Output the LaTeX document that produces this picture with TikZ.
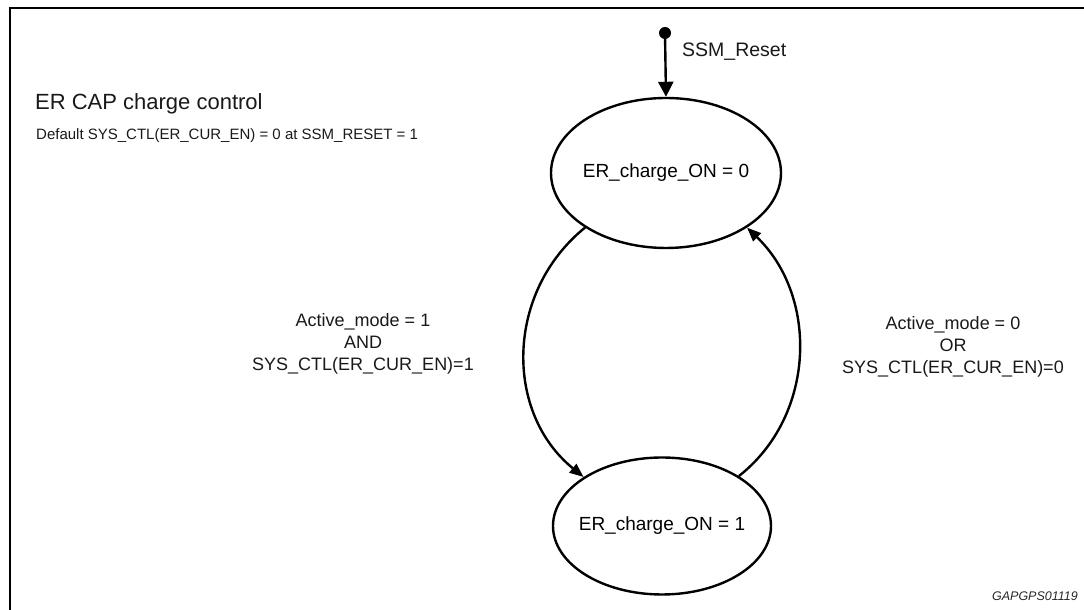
\documentclass[tikz,border=0pt]{standalone}
\usepackage{fontspec}
\setmainfont{Liberation Sans}
\usetikzlibrary{arrows.meta,shapes.geometric}
\tikzset{
  state/.style={ellipse,draw,line width=2.4bp,inner xsep=-40bp,inner ysep=0pt,font=\fontsize{19bp}{22bp}\selectfont},
  trans/.style={line width=2.4bp,-{Triangle[length=14bp,width=11bp]}},
  lbl/.style={align=center,inner sep=0pt,font=\fontsize{18bp}{22bp}\selectfont,text=black!90},
}
\begin{document}
\begin{tikzpicture}[x=1bp,y=1bp]
\useasboundingbox (0,0) rectangle (1084,610);
\begin{scope}
\clip (0,0) rectangle (1084,610);
\draw[line width=2.4bp] (10,-10) -- (10,602) -- (1100,602);
\end{scope}
% states
\node[state,minimum width=230bp,minimum height=150bp] (s1) at (666,437) {ER\_charge\_ON = 0};
\node[state,minimum width=218bp,minimum height=137bp] (s2) at (662,84) {ER\_charge\_ON = 1};
% initial
\coordinate (dot) at (665,577);
\fill (dot) circle (6bp);
\draw[trans,-{Triangle[length=15bp,width=15bp]}] (dot) -- (s1.north);
\node[lbl,anchor=west,font=\fontsize{19.5bp}{22bp}\selectfont] (reset) at (682,558) {SSM\_Reset};
% transitions
\draw[trans] (s1.214) .. controls +(-79.5,-64.4) and +(-79.5,64.4) .. (s2.148);
\draw[trans] (s2.33) .. controls +(77.5,61) and +(71.2,-68.2) .. (s1.326);
% labels
\node[lbl] (l1) at (363,266) {Active\_mode = 1\\AND\\SYS\_CTL(ER\_CUR\_EN)=1};
\node[lbl] (l2) at (953,263) {Active\_mode = 0\\OR\\SYS\_CTL(ER\_CUR\_EN)=0};
\node[anchor=west,inner sep=0pt,font=\fontsize{22bp}{26bp}\selectfont,text=black!90] (title) at (35,506) {ER CAP charge control};
\node[anchor=west,inner sep=0pt,font=\fontsize{15bp}{18bp}\selectfont,text=black!90] (def) at (36,474) {Default SYS\_CTL(ER\_CUR\_EN) = 0 at SSM\_RESET = 1};
\node[anchor=east,inner sep=0pt,font=\fontsize{12.5bp}{15bp}\selectfont\itshape,text=black!85] (code) at (1078,14) {GAPGPS01119};
\end{tikzpicture}
\end{document}
